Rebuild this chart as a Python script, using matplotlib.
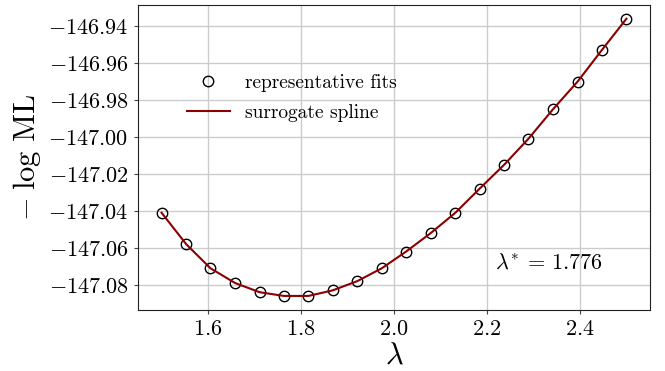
import numpy as np
import matplotlib
matplotlib.use('Agg')
import matplotlib.pyplot as plt

# lambda grid and -log ML of the representative fits
lam = [1.500, 1.553, 1.605, 1.658, 1.711, 1.763, 1.816, 1.868, 1.921, 1.974,
       2.026, 2.079, 2.132, 2.184, 2.237, 2.289, 2.342, 2.395, 2.447, 2.500]
nlml = [-147.041, -147.058, -147.071, -147.079, -147.084, -147.086, -147.086,
        -147.083, -147.078, -147.071, -147.062, -147.052, -147.041, -147.028,
        -147.015, -147.001, -146.985, -146.970, -146.953, -146.936]
lam_star = 1.776

plt.rcParams['font.family'] = 'serif'
plt.rcParams['font.serif'] = ['cmr10']
plt.rcParams['mathtext.fontset'] = 'cm'
plt.rcParams['axes.formatter.use_mathtext'] = True

fig, ax = plt.subplots(figsize=(6.65, 3.71), dpi=100)

ax.plot(lam, nlml, 'o', mfc='none', mec='black', ms=7.5, mew=1.0,
        label='representative fits')
ax.plot(lam, nlml, '-', color='#8b0000', lw=1.5, label='surrogate spline')

ax.grid(True, color='#cccccc', lw=1.0)
ax.set_axisbelow(True)
ax.tick_params(length=3, width=0.8, color='#444444', labelsize=16, pad=4)
ax.set_xticks([1.6, 1.8, 2.0, 2.2, 2.4])
ax.set_yticks([-146.94, -146.96, -146.98, -147.00, -147.02, -147.04, -147.06, -147.08])
for s in ax.spines.values():
    s.set_color('#222222')

ax.set_xlabel(r'$\lambda$', fontsize=22, labelpad=2)
ax.set_ylabel(r'$-\;\log\,\mathrm{ML}$', fontsize=22, labelpad=4)

ax.text(0.697, 0.154, r'$\lambda^{*}\,=\,%.3f$' % lam_star, transform=ax.transAxes,
        fontsize=16, ha='left', va='center')

ax.legend(loc='upper left', bbox_to_anchor=(0.08, 0.80), frameon=False, fontsize=14,
          handlelength=2.2, labelspacing=0.65, borderaxespad=0)

fig.subplots_adjust(left=0.208, right=0.977, top=0.987, bottom=0.165)
fig.savefig('out.png', dpi=100)
